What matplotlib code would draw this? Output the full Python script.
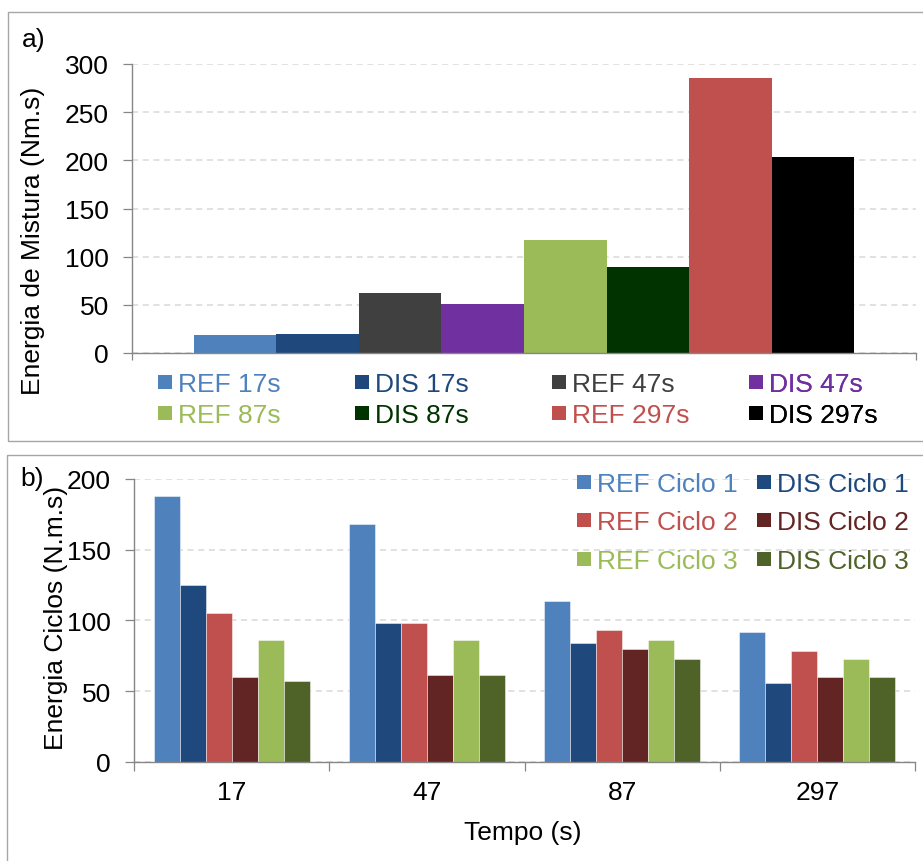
import matplotlib
matplotlib.use("Agg")
import matplotlib.pyplot as plt
from matplotlib.patches import Rectangle
import numpy as np

plt.rcParams['font.family'] = ['Liberation Sans', 'DejaVu Sans']
plt.rcParams['font.size'] = 19

# ---- panel a: total mixing energy ----
labels_a = ['REF 17s', 'DIS 17s', 'REF 47s', 'DIS 47s',
            'REF 87s', 'DIS 87s', 'REF 297s', 'DIS 297s']
values_a = [19, 20, 62, 51, 117, 89, 285, 203]
colors_a = ['#4F81BD', '#1F497D', '#404040', '#7030A0',
            '#9BBB59', '#003300', '#C0504D', '#000000']

# ---- panel b: energy per cycle ----
times_b = ['17', '47', '87', '297']
series_b = ['REF Ciclo 1', 'DIS Ciclo 1', 'REF Ciclo 2',
            'DIS Ciclo 2', 'REF Ciclo 3', 'DIS Ciclo 3']
ref_c1 = [188, 168, 114, 92]
dis_c1 = [125, 98, 84, 56]
ref_c2 = [105, 98, 93, 78]
dis_c2 = [60, 61, 80, 60]
ref_c3 = [86, 86, 86, 73]
dis_c3 = [57, 61, 73, 60]
colors_b = ['#4F81BD', '#1F497D', '#C0504D', '#632523', '#9BBB59', '#4F6228']

W, H = 923, 862
fig = plt.figure(figsize=(W / 100, H / 100), dpi=100)
fig.patch.set_facecolor('white')

AXIS_C = '#868686'
GRID_C = '#D9D9D9'
FRAME_C = '#A6A6A6'


def fx(px):
    return px / W


def fy(py):
    return 1 - py / H


# outer frames around each panel
fig.add_artist(Rectangle((fx(8), fy(442)), fx(940 - 8), (442 - 13) / H,
                         transform=fig.transFigure, fill=False,
                         edgecolor=FRAME_C, lw=1.0))
fig.add_artist(Rectangle((fx(7), fy(880)), fx(940 - 7), (880 - 456) / H,
                         transform=fig.transFigure, fill=False,
                         edgecolor=FRAME_C, lw=1.0))


def style_axes(ax):
    for s in ['top', 'right']:
        ax.spines[s].set_visible(False)
    for s in ['left', 'bottom']:
        ax.spines[s].set_color(AXIS_C)
        ax.spines[s].set_linewidth(1.0)
    ax.set_axisbelow(True)
    ax.yaxis.grid(True, color=GRID_C, linestyle=(0, (4, 3)), linewidth=1.1)
    ax.tick_params(axis='y', direction='out', length=6.5, width=0.9,
                   color=AXIS_C, pad=10, labelsize=19)


# ---------------- panel a ----------------
ax_a = fig.add_axes([fx(132), fy(354), fx(916 - 132), (354 - 65) / H])
style_axes(ax_a)
n_a = len(values_a)
w_a = 1 / (n_a + 1.5)
x_a = 0.5 + (np.arange(n_a) - (n_a - 1) / 2) * w_a
bars_a = ax_a.bar(x_a, values_a, width=w_a, color=colors_a, linewidth=0)
for p, lab in zip(bars_a.patches, labels_a):
    p.set_label(lab)
ax_a.set_xlim(0, 1)
ax_a.set_ylim(0, 300)
ax_a.set_yticks(np.arange(0, 301, 50))
ax_a.set_xticks([0, 1])
ax_a.set_xticklabels([])
ax_a.tick_params(axis='x', direction='out', length=5, width=0.9, color=AXIS_C)

# legend: four columns of two rows, text coloured like the bars
patches_a = bars_a.patches
for k in range(4):
    hs = [patches_a[k], patches_a[k + 4]]
    leg = ax_a.legend(handles=hs, loc='upper left',
                      bbox_to_anchor=((26 + k * 197) / 784, -0.066),
                      frameon=False, borderpad=0, borderaxespad=0,
                      handlelength=0.53, handleheight=0.44,
                      handletextpad=0.22, labelspacing=0.27, fontsize=19)
    for t, h in zip(leg.get_texts(), hs):
        t.set_color(h.get_facecolor())
    ax_a.add_artist(leg)

fig.text(fx(33), fy(241), 'Energia de Mistura (Nm.s)', rotation=90,
         ha='center', va='center', fontsize=19)
fig.text(fx(22), fy(40), 'a)', ha='left', va='center', fontsize=19)

# ---------------- panel b ----------------
ax_b = fig.add_axes([fx(134), fy(762.7), fx(915 - 134), (762.7 - 480) / H])
style_axes(ax_b)
data_b = [ref_c1, dis_c1, ref_c2, dis_c2, ref_c3, dis_c3]
n_b = len(data_b)
w_b = 1 / (n_b + 1.5)
cats = np.arange(len(times_b)) + 0.5
handles_b = []
for j, (vals, col, lab) in enumerate(zip(data_b, colors_b, series_b)):
    bc = ax_b.bar(cats + (j - (n_b - 1) / 2) * w_b, vals, width=w_b,
                  color=col, edgecolor=(1, 1, 1, 0.55), linewidth=0.6,
                  label=lab)
    handles_b.append(bc)
ax_b.set_xlim(0, len(times_b))
ax_b.set_ylim(0, 200)
ax_b.set_yticks(np.arange(0, 201, 50))
ax_b.set_xticks(np.arange(len(times_b) + 1))
ax_b.set_xticklabels([])
ax_b.set_xticks(cats, minor=True)
ax_b.set_xticklabels(times_b, minor=True)
ax_b.tick_params(axis='x', which='major', direction='out', length=6.5,
                 width=0.9, color=AXIS_C)
ax_b.tick_params(axis='x', which='minor', length=0, pad=13, labelsize=19)

order = [0, 2, 4, 1, 3, 5]
leg_b = ax_b.legend(handles=[handles_b[i] for i in order],
                    labels=[series_b[i] for i in order],
                    ncol=2, loc='upper left',
                    bbox_to_anchor=((577 - 134) / 781, 1.025),
                    frameon=False, borderpad=0, borderaxespad=0,
                    handlelength=0.53, handleheight=0.44,
                    handletextpad=0.22, labelspacing=0.55,
                    columnspacing=0.73, fontsize=19)
for t, i in zip(leg_b.get_texts(), order):
    t.set_color(colors_b[i])
for h in leg_b.legend_handles:
    h.set_linewidth(0)

fig.text(fx(56.5), fy(617.5), 'Energia Ciclos (N.m.s)', rotation=90,
         ha='center', va='center', fontsize=19)
fig.text(fx(20), fy(479), 'b)', ha='left', va='center', fontsize=19)
fig.text(fx(523), fy(833), 'Tempo (s)', ha='center', va='center', fontsize=19)

fig.savefig('out.png', dpi=100, facecolor='white')
